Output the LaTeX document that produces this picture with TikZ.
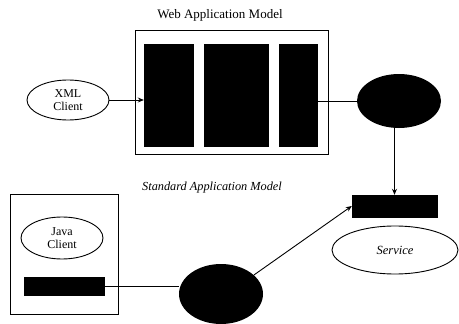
\documentclass[tikz,border=0pt]{standalone}
\usepackage{fontspec}
\setmainfont{Liberation Serif}
\usetikzlibrary{arrows.meta,shapes.geometric}
\begin{document}
\begin{tikzpicture}[x=1pt,y=-1pt,
  frame/.style={draw,line width=0.8pt},
  blk/.style={fill=black,draw=black,inner sep=0pt},
  oval/.style={draw,ellipse,line width=0.9pt,inner sep=0pt,align=center,
    font=\fontsize{12}{13}\selectfont},
  dot/.style={fill=black,ellipse,inner sep=0pt},
  link/.style={line width=0.9pt},
  arr/.style={link,-{Stealth[length=6pt,width=5pt]}}]
\useasboundingbox (0,0) rectangle (459,324);

% web application model
\node[font=\fontsize{13}{15}\selectfont] (webt) at (220,15) {Web Application Model};
\draw[frame] (135,30) rectangle (328,154);
\node[blk,minimum width=49pt,minimum height=102pt] (w1) at (168.5,95) {};
\node[blk,minimum width=64pt,minimum height=102pt] (w2) at (236,95) {};
\node[blk,minimum width=38pt,minimum height=102pt] (w3) at (298,95) {};

% client and gateway of the web model
\node[oval,minimum width=82pt,minimum height=40pt] (xml) at (68,100) {XML\\Client};
\node[dot,minimum width=84pt,minimum height=54pt] (g1) at (399,101) {};

% standard application model
\node[font=\itshape\fontsize{12.3}{14}\selectfont] (stdt) at (212,188) {Standard Application Model};
\draw[frame] (10,194) rectangle (118,314);
\node[oval,minimum width=82pt,minimum height=42pt] (java) at (62,238) {Java\\Client};
\node[blk,minimum width=80pt,minimum height=18pt] (jbar) at (64,286) {};
\node[dot,minimum width=84pt,minimum height=60pt] (g2) at (221,294) {};

% service
\node[blk,minimum width=85pt,minimum height=22pt] (sbar) at (394.5,206) {};
\node[oval,minimum width=126pt,minimum height=48pt,font=\itshape\fontsize{12.5}{14}\selectfont] (svc) at (395,250) {Service};

% connectors
\draw[arr] (xml.east) -- (w1.west |- xml.east);
\draw[link] (w3.east |- g1.west) -- (g1.west);
\draw[arr] (g1.south -| sbar.north) -- (sbar.north);
\draw[link] (jbar.east) -- (jbar.east -| g2.west);
\draw[arr] (g2.30) -- (sbar.west);
\end{tikzpicture}
\end{document}
